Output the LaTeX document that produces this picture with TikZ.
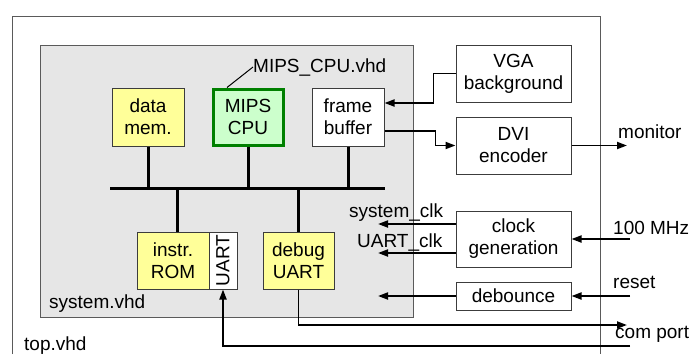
\documentclass[tikz,border=0pt]{standalone}
\usepackage{fontspec}
\setmainfont{Liberation Sans}
\usetikzlibrary{arrows.meta,calc}
\definecolor{boxline}{HTML}{3C3C3C}
\definecolor{framegray}{HTML}{5A5A5A}
\definecolor{sysfill}{HTML}{E6E6E6}
\definecolor{memyellow}{HTML}{FFFF99}
\definecolor{cpugreen}{HTML}{CCFFCC}
\definecolor{cpuborder}{HTML}{008000}
\tikzset{
  txt/.style={font=\fontsize{19}{22}\selectfont, inner sep=0pt},
  blk/.style={draw=boxline, line width=1pt, align=center, inner sep=0pt,
    font=\fontsize{19}{22}\selectfont},
  ylw/.style={blk, fill=memyellow},
  wht/.style={blk, fill=white},
  busline/.style={line width=3pt},
  arr/.style={line width=1.9pt, -{Triangle[length=10pt,width=7pt]}},
}
\begin{document}
\begin{tikzpicture}[x=1pt,y=-1pt]
\useasboundingbox (0,0) rectangle (692,354);
% outer frame (top.vhd)
\draw[framegray, line width=1pt] (12,354) -- (12,16) -- (600,16) -- (600,354);
\node[txt, anchor=base west] (toplbl) at (24,350) {top.vhd};
% system.vhd box
\node[draw=framegray, fill=sysfill, line width=1pt, minimum width=373pt, minimum height=272pt, inner sep=0pt] (sys) at (226.5,181) {};
\node[txt, anchor=base west] (syslbl) at (49,308) {system.vhd};
% blocks
\node[ylw, minimum width=72pt, minimum height=58pt] (dmem) at (148,117) {data\\mem.};
\node[blk, draw=cpuborder, line width=3pt, fill=cpugreen, minimum width=70pt, minimum height=56pt] (cpu) at (248,117) {MIPS\\CPU};
\node[wht, minimum width=72pt, minimum height=58pt] (fb) at (348,117) {frame\\buffer};
\node[ylw, minimum width=72pt, minimum height=57pt] (rom) at (173,260.5) {instr.\\ROM};
\node[wht, minimum width=28pt, minimum height=57pt] (uart) at (223,260.5) {};
\node[txt, rotate=90] (uartlbl) at (uart.center) {UART};
\node[ylw, minimum width=71pt, minimum height=57pt] (dbg) at (298.5,260.5) {debug\\UART};
\node[wht, minimum width=115pt, minimum height=57pt] (vga) at (513.5,73.5) {VGA\\background};
\node[wht, minimum width=115pt, minimum height=57pt] (dvi) at (513.5,145.5) {DVI\\encoder};
\node[wht, minimum width=115pt, minimum height=56pt] (clk) at (513.5,239) {clock\\generation};
\node[wht, minimum width=115pt, minimum height=28pt] (deb) at (513.5,296) {debounce};
% MIPS_CPU.vhd label
\node[txt, anchor=base west] (cpulbl) at (253,72) {MIPS\_CPU.vhd};
\draw[line width=1pt] ([xshift=-21pt]cpu.north) -- (cpulbl.west);
% bus
\coordinate (busL) at (110,188);
\coordinate (busR) at (385,188);
\draw[busline] (busL) -- (busR);
\draw[busline] (dmem.south) -- (dmem.south |- busL);
\draw[busline] (cpu.south) -- (cpu.south |- busL);
\draw[busline] (fb.south) -- (fb.south |- busL);
\draw[busline] ([xshift=4pt]rom.north) -- ([xshift=4pt]rom.north |- busL);
\draw[busline] (dbg.north) -- (dbg.north |- busL);
% video path
\draw[arr] (vga.west) -- ++(-22,0) |- ([yshift=14pt]fb.east);
\draw[arr] ([yshift=-14pt]fb.east) -- ++(51,0) |- (dvi.west);
\coordinate (monend) at (627,145.5);
\draw[arr] (dvi.east) -- (monend);
\node[txt, anchor=base west] (monlbl) at (618,138) {monitor};
% clocks
\coordinate (sysclk) at (378,224);
\coordinate (uartclk) at (378,253);
\draw[arr] (clk.west |- sysclk) -- (sysclk);
\draw[arr] (clk.west |- uartclk) -- (uartclk);
\node[txt, anchor=base west] (sysclklbl) at (349,217) {system\_clk};
\node[txt, anchor=base west] (uartclklbl) at (357,247) {UART\_clk};
\coordinate (mhz) at (630,239);
\draw[arr] (mhz) -- (clk.east);
\node[txt, anchor=base west] (mhzlbl) at (613,234) {100 MHz};
% reset
\coordinate (rst) at (630,296);
\coordinate (rstout) at (378,296);
\draw[arr] (rst) -- (deb.east);
\draw[arr] (deb.west) -- (rstout);
\node[txt, anchor=base west] (rstlbl) at (613,288) {reset};
% com port
\coordinate (comout) at (627,325);
\coordinate (comin) at (630,346);
\draw[arr] (dbg.south) |- (comout);
\draw[arr] (comin) -| (uart.south);
\node[txt, anchor=base west] (comlbl) at (615,338) {com port};
\end{tikzpicture}
\end{document}
